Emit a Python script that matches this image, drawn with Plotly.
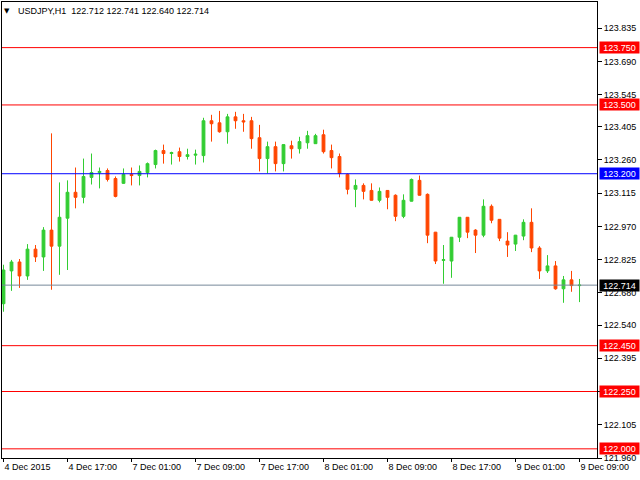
import plotly.graph_objects as go

symbol = "USDJPY,H1"

# OHLC for H1 bars, 4 Dec 2015 09:00 .. 9 Dec 2015 09:00 (73 bars)
opens = [122.633, 122.776, 122.815, 122.754, 122.871, 122.837, 122.954, 122.884, 123.006, 123.119,
         123.097, 123.184, 123.205, 123.214, 123.179, 123.158, 123.197, 123.192, 123.205, 123.240,
         123.301, 123.288, 123.296, 123.275, 123.281, 123.279, 123.431, 123.422, 123.383, 123.448,
         123.431, 123.431, 123.357, 123.266, 123.318, 123.244, 123.322, 123.309, 123.335, 123.331,
         123.370, 123.301, 123.275, 123.197, 123.132, 123.149, 123.127, 123.084, 123.127, 123.106,
         123.014, 123.080, 123.171, 123.110, 122.945, 122.822, 122.819, 122.923, 123.010, 122.954,
         122.932, 123.058, 123.001, 122.906, 122.893, 122.928, 122.988, 122.876, 122.776, 122.798,
         122.698, 122.737, 122.712]
highs = [122.803, 122.824, 122.828, 122.893, 122.889, 122.967, 123.376, 123.162, 123.171, 123.227,
         123.266, 123.288, 123.227, 123.223, 123.188, 123.223, 123.227, 123.236, 123.249, 123.305,
         123.327, 123.296, 123.314, 123.309, 123.305, 123.444, 123.457, 123.474, 123.461, 123.470,
         123.461, 123.448, 123.413, 123.340, 123.340, 123.328, 123.344, 123.361, 123.387, 123.374,
         123.392, 123.327, 123.288, 123.201, 123.175, 123.158, 123.158, 123.140, 123.128, 123.110,
         123.110, 123.179, 123.192, 123.114, 122.946, 122.889, 122.924, 123.011, 123.011, 122.958,
         123.088, 123.066, 123.002, 122.945, 122.933, 123.001, 123.049, 122.884, 122.845, 122.819,
         122.754, 122.776, 122.741]
lows = [122.598, 122.689, 122.702, 122.737, 122.815, 122.776, 122.694, 122.759, 122.780, 123.049,
        123.071, 123.153, 123.136, 123.166, 123.097, 123.156, 123.149, 123.149, 123.184, 123.223,
        123.244, 123.240, 123.253, 123.262, 123.240, 123.249, 123.340, 123.379, 123.331, 123.396,
        123.383, 123.309, 123.210, 123.201, 123.210, 123.210, 123.266, 123.288, 123.309, 123.330,
        123.288, 123.223, 123.184, 123.110, 123.054, 123.088, 123.083, 123.075, 123.045, 122.993,
        123.006, 123.079, 123.105, 122.897, 122.806, 122.720, 122.746, 122.902, 122.919, 122.854,
        122.923, 122.984, 122.906, 122.837, 122.863, 122.910, 122.858, 122.741, 122.767, 122.694,
        122.637, 122.685, 122.640]
closes = [122.780, 122.815, 122.754, 122.871, 122.837, 122.954, 122.884, 123.010, 123.119, 123.097,
          123.188, 123.205, 123.210, 123.175, 123.101, 123.197, 123.192, 123.210, 123.244, 123.301,
          123.288, 123.292, 123.275, 123.283, 123.285, 123.431, 123.418, 123.383, 123.448, 123.431,
          123.426, 123.353, 123.266, 123.318, 123.244, 123.327, 123.309, 123.340, 123.366, 123.366,
          123.296, 123.270, 123.201, 123.132, 123.149, 123.123, 123.084, 123.123, 123.097, 123.014,
          123.084, 123.175, 123.106, 122.932, 122.819, 122.825, 122.923, 123.010, 122.945, 122.932,
          123.058, 122.997, 122.919, 122.889, 122.932, 122.988, 122.876, 122.776, 122.798, 122.698,
          122.737, 122.712, 122.714]

# time axis labels (every 8 bars)
time_tick_idx = [0, 8, 16, 24, 32, 40, 48, 56, 64, 72]
time_tick_text = ["4 Dec 2015", "4 Dec 17:00", "7 Dec 01:00", "7 Dec 09:00", "7 Dec 17:00",
                  "8 Dec 01:00", "8 Dec 09:00", "8 Dec 17:00", "9 Dec 01:00", "9 Dec 09:00"]

# price scale labels
price_ticks = [123.835, 123.690, 123.545, 123.405, 123.260, 123.115, 122.970, 122.825,
               122.680, 122.540, 122.395, 122.250, 122.105, 121.960]

# horizontal levels
red_levels = [123.750, 123.500, 122.450, 122.250, 122.000]
blue_levels = [123.200]
bid_price = closes[-1]

RED = "#FF0000"
BLUE = "#0000FF"
BID = "#778899"
FONT = "Liberation Sans, Arial, sans-serif"

x = list(range(len(opens)))

fig = go.Figure()
fig.add_trace(go.Candlestick(
    x=x, open=opens, high=highs, low=lows, close=closes,
    increasing=dict(line=dict(color="#32CD32", width=1), fillcolor="#32CD32"),
    decreasing=dict(line=dict(color="#FF4500", width=1), fillcolor="#FF4500"),
    whiskerwidth=0, hoverinfo="skip", showlegend=False,
))

shapes = []
annotations = []

def level(price, color, bg):
    shapes.append(dict(type="line", xref="paper", yref="y", x0=0, x1=1, y0=price, y1=price,
                       line=dict(color=color, width=1), layer="above"))
    annotations.append(dict(xref="paper", yref="y", x=1, y=price, xanchor="left", yanchor="middle",
                            xshift=2, text=f"{price:.3f}", showarrow=False, bgcolor=bg,
                            width=39, height=11, align="center", borderpad=0,
                            font=dict(family=FONT, size=9, color="white")))

for p in red_levels:
    level(p, RED, RED)
for p in blue_levels:
    level(p, BLUE, BLUE)
level(bid_price, BID, "black")

# header
annotations.append(dict(xref="paper", yref="paper", x=0, y=1, xanchor="left", yanchor="top",
                        xshift=0, yshift=-3, text="\u25BC", showarrow=False,
                        font=dict(family="DejaVu Sans", size=7, color="black")))
header = f"{symbol}\u00a0\u00a0{opens[-1]:.3f} {highs[-1]:.3f} {lows[-1]:.3f} {closes[-1]:.3f}"
annotations.append(dict(xref="paper", yref="paper", x=0, y=1, xanchor="left", yanchor="top",
                        xshift=14, yshift=-2, text=header, showarrow=False,
                        font=dict(family=FONT, size=9, color="black")))

fig.update_layout(
    width=640, height=480,
    margin=dict(l=2, r=43, t=2, b=22),
    paper_bgcolor="white", plot_bgcolor="white",
    boxgap=0.5,
    shapes=shapes, annotations=annotations,
    font=dict(family=FONT, size=9, color="black"),
    xaxis=dict(range=[-0.1875, 74.1875], rangeslider=dict(visible=False),
               tickvals=time_tick_idx, ticktext=time_tick_text,
               ticks="outside", ticklen=3, tickcolor="black",
               ticklabelposition="outside right",
               showgrid=False, zeroline=False, showline=True, mirror=True,
               linecolor="black", linewidth=1, fixedrange=True),
    yaxis=dict(range=[121.96, 123.949], side="right",
               tickvals=price_ticks, ticktext=[f"{v:.3f}" for v in price_ticks],
               ticks="outside", ticklen=4, tickcolor="black",
               showgrid=False, zeroline=False, showline=True, mirror=True,
               linecolor="black", linewidth=1, fixedrange=True),
)

fig.write_html("out.html")
